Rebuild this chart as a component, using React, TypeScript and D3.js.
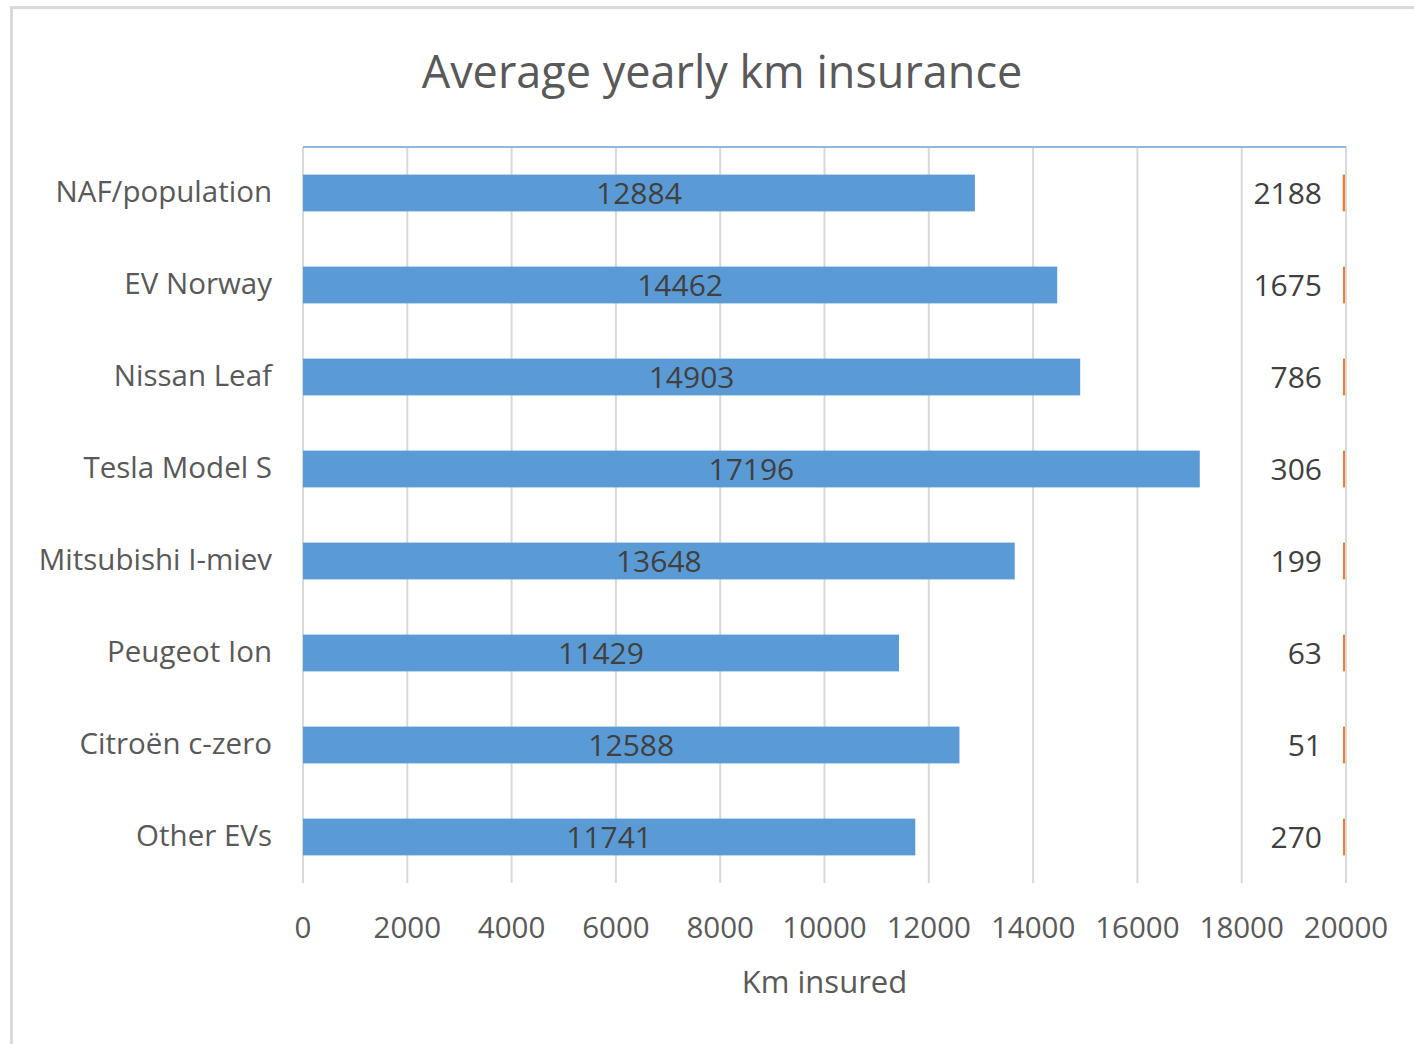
import * as d3 from "d3";

const categories = [
  "NAF/population",
  "EV Norway",
  "Nissan Leaf",
  "Tesla Model S",
  "Mitsubishi I-miev",
  "Peugeot Ion",
  "Citroën c-zero",
  "Other EVs",
];
const kmInsured = [12884, 14462, 14903, 17196, 13648, 11429, 12588, 11741];
const carCount = [2188, 1675, 786, 306, 199, 63, 51, 270];
const xTicks = [0, 2000, 4000, 6000, 8000, 10000, 12000, 14000, 16000, 18000, 20000];

export default function App() {
  const width = 1414;
  const height = 1044;
  const left = 303;
  const right = 1346;
  const top = 147;
  const bottom = 883;
  const font = "'Open Sans', sans-serif";
  const grey = "#595959";

  const x = d3.scaleLinear().domain([0, 20000]).range([left, right]);
  // secondary axis, reversed, counts are tiny against it
  const x2 = d3.scaleLinear().domain([0, 1000000]).range([right, left]);

  const y = d3
    .scaleBand()
    .domain(categories)
    .range([top, bottom])
    .paddingInner(0.6)
    .paddingOuter(0.3);

  return (
    <svg
      width={width}
      height={height}
      style={{ position: "absolute", left: 0, top: 0, background: "#fff" }}
    >
      {/* frame */}
      <rect x={11.5} y={7.5} width={1420} height={1060} fill="none" stroke="#d9d9d9" strokeWidth={3} />

      <text x={722} y={88} textAnchor="middle" fontFamily={font} fontSize={45} fill={grey}>
        Average yearly km insurance
      </text>

      {/* grid */}
      <g>
        {xTicks.map((t) => (
          <line key={t} x1={x(t)} x2={x(t)} y1={top} y2={bottom} stroke="#d9d9d9" strokeWidth={2} />
        ))}
      </g>
      <line x1={left} x2={right} y1={top} y2={top} stroke="#8fb8e0" strokeWidth={2} />

      {/* bars */}
      {categories.map((c, i) => {
        const by = y(c)!;
        const bh = y.bandwidth();
        const w = x(kmInsured[i]) - x(0);
        const w2 = Math.max(2, x2(0) - x2(carCount[i]));
        return (
          <g key={c}>
            <rect x={x(0)} y={by} width={w} height={bh} fill="#5b9bd5" />
            <text
              x={x(0) + w / 2}
              y={by + bh / 2}
              dy="0.36em"
              textAnchor="middle"
              fontFamily={font}
              fontSize={30}
              fill="#404040"
            >
              {kmInsured[i]}
            </text>
            <rect x={x2(0) - w2 - 1} y={by} width={w2} height={bh} fill="#ed7d31" />
            <text
              x={1322}
              y={by + bh / 2}
              dy="0.36em"
              textAnchor="end"
              fontFamily={font}
              fontSize={30}
              fill="#404040"
            >
              {carCount[i]}
            </text>
            <text
              x={272}
              y={by + bh / 2}
              dy="0.3em"
              textAnchor="end"
              fontFamily={font}
              fontSize={29.5}
              fill={grey}
            >
              {c}
            </text>
          </g>
        );
      })}

      {/* x axis labels */}
      {xTicks.map((t) => (
        <text key={t} x={x(t)} y={938} textAnchor="middle" fontFamily={font} fontSize={29.5} fill={grey}>
          {t}
        </text>
      ))}
      <text x={(left + right) / 2} y={993} textAnchor="middle" fontFamily={font} fontSize={31} fill={grey}>
        Km insured
      </text>
    </svg>
  );
}
